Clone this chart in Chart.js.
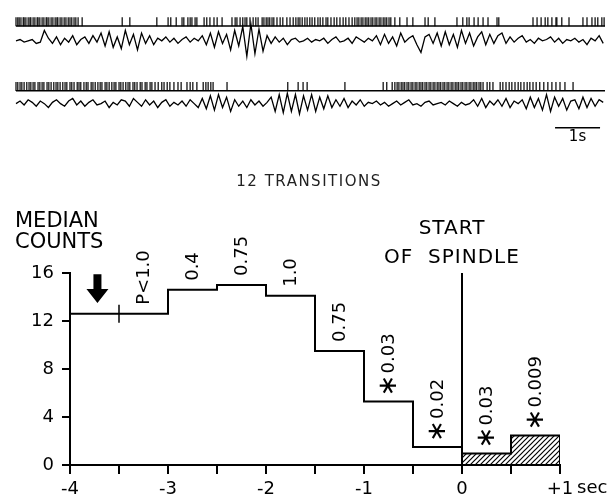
<!DOCTYPE html>
<html>
<head>
<meta charset="utf-8">
<script src="https://cdn.jsdelivr.net/npm/chart.js@4/dist/chart.umd.min.js"></script>
<style>
  html,body{margin:0;padding:0;background:#fff;}
  #wrap{position:relative;width:616px;height:501px;overflow:hidden;}
  canvas{position:absolute;left:0;}
  #traces{top:0;}
  #hist{top:150px;}
</style>
</head>
<body>
<div id="wrap">
  <canvas id="traces" width="616" height="150"></canvas>
  <canvas id="hist" width="616" height="351"></canvas>
</div>
<script>
// ---------------- DATA: top recordings (seconds / arbitrary µV units) ----------------
const traceDuration = 13.09;          // seconds shown in each sweep
const scaleBarStart = 11.98;          // s
const scaleBarLength = 1;             // "1s"
const eegDt = 0.09;                   // s between EEG samples

const raster1Times = [0.00,0.04,0.07,0.11,0.16,0.18,0.22,0.27,0.31,0.33,0.38,0.42,0.47,0.49,0.53,0.58,0.62,0.67,0.69,0.73,0.78,0.82,0.87,0.91,0.93,0.98,1.02,1.07,1.11,1.16,1.20,1.24,1.29,1.33,1.38,
  1.47,2.36,2.53,3.13,3.38,3.44,3.56,3.69,3.73,3.82,3.87,3.91,3.98,4.02,4.18,4.24,4.31,4.40,4.47,4.58,4.80,4.87,4.91,4.98,5.04,5.09,5.13,5.20,5.27,5.33,5.38,5.47,5.51,5.56,5.60,5.64,5.69,5.73,5.80,5.87,5.93,
  6.02,6.09,6.16,6.22,6.27,6.31,6.36,6.42,6.47,6.53,6.58,6.64,6.71,6.76,6.82,6.89,6.93,7.00,7.07,7.13,7.20,7.27,7.33,7.40,7.47,7.53,7.58,7.62,7.67,7.71,7.76,7.80,7.84,7.89,7.93,7.98,8.02,8.07,8.11,8.16,8.20,8.24,8.29,8.33,
  8.42,8.53,8.69,8.82,9.09,9.16,9.31,9.80,9.93,10.02,10.07,10.18,10.27,10.38,10.49,10.69,10.73,11.49,11.58,11.67,11.76,11.82,11.91,12.00,12.02,12.13,12.29,12.60,12.69,12.80,12.87,12.93,13.02,13.07];

const raster2Times = [0.00,0.04,0.09,0.13,0.18,0.24,0.29,0.33,0.38,0.42,0.49,0.53,0.58,0.62,0.69,0.73,0.78,0.84,0.89,0.93,0.98,1.04,1.09,1.13,1.20,1.24,1.29,1.36,1.40,1.44,1.51,1.56,1.60,1.67,1.71,1.76,1.82,1.87,1.91,1.98,
  2.02,2.07,2.13,2.18,2.22,2.29,2.33,2.38,2.44,2.49,2.53,2.60,2.64,2.69,2.76,2.80,2.87,2.91,2.98,3.02,3.09,3.16,3.24,3.29,3.36,3.42,3.51,3.60,3.67,3.80,3.87,3.93,4.02,4.16,4.22,4.27,4.33,4.38,4.69,
  6.04,6.27,6.38,6.47,7.31,8.16,8.24,8.36,8.42,8.47,8.51,8.56,8.60,8.64,8.69,8.73,8.78,8.82,8.87,8.91,8.96,9.00,9.04,9.09,9.13,9.18,9.22,9.27,9.31,9.36,9.40,9.44,9.49,9.53,9.58,9.62,9.67,9.71,9.76,9.80,9.84,9.89,9.93,9.98,
  10.02,10.07,10.11,10.16,10.20,10.24,10.29,10.33,10.38,10.47,10.53,10.60,10.76,10.82,10.89,10.96,11.02,11.09,11.16,11.22,11.29,11.36,11.42,11.49,11.56,11.64,11.73,11.82,11.91,12.00,12.09,12.20,12.38];

const eeg1 = [0,1,-1,0,1,-2,-1, 8,2,
  -2,3,-3,2,-1,4,-3,1,3,-2,4,-1,
  6,-4,7,-5,3,-6,8,-3,5,-7,6,-2,4,
  -3,2,0,3,-1,2,-2,1,3,-1,2,0,
  4,-3,6,-5,7,-2,5,-7,8,-4,
  11,-12,13,-10,9,-8,4,
  -2,3,-1,2,-3,1,2,-1,0,2,
  -1,1,0,2,-2,1,3,-1,0,2,-2,3,1,-1,2,0,
  4,-3,5,-2,3,-4,6,-1,2,4,-3,-9,
  3,5,-2,6,-4,7,-3,5,-5,8,-2,6,-4,3,7,-3,5,-2,4,6,
  -2,3,-1,2,4,-1,1,-2,2,0,1,3,-1,2,-2,1,0,2,-1,1,-3,2,0,4,-2];

const eeg2 = [0,2,-1,3,1,-2,2,0,-3,1,3,0,-2,2,4,-1,
  2,-2,1,3,-1,0,2,-3,1,-1,3,2,-2,4,1,-2,3,-1,
  2,-3,1,3,-2,1,-1,2,-2,3,0,-3,
  4,-4,6,-5,7,-3,5,-6,3,-2,
  2,-3,3,-1,2,-2,1,
  5,-6,7,-7,8,-6,7,-8,6,-5,7,-6,5,-4,6,-3,
  3,-2,4,-3,2,-1,3,-2,1,0,
  2,-1,1,-2,0,2,-1,1,3,-1,0,-2,1,2,-1,0,1,-1,2,0,-2,1,-1,0,
  3,-2,4,-3,2,-1,3,-2,4,-3,2,0,
  3,-4,5,-3,4,-5,7,-6,5,-2,4,-5,2,3,-4,5,-3,4,-2,3,1];

// ---------------- DATA: histogram ----------------
const binEdges = [-4,-3.5,-3,-2.5,-2,-1.5,-1,-0.5,0,0.5,1];        // s relative to spindle start
const medianCounts = [12.6,12.6,14.6,15.0,14.1,9.5,5.3,1.5,0.95,2.45];
const pLabels = [null,"P<1.0","0.4","0.75","1.0","0.75","*0.03","*0.02","*0.03","*0.009"];
const spindleStart = 0;
const xTickLabels = {"-4":"-4","-3":"-3","-2":"-2","-1":"-1","0":"0","1":"+1"};
const yTicks = [0,4,8,12,16];
const arrowTime = -3.72, arrowFrom = 15.9, arrowTo = 13.5;
const markTime = -3.5;

Chart.defaults.font.family = "'DejaVu Sans', sans-serif";
Chart.defaults.color = '#000';

// ---------------- top chart: raster + EEG sweeps ----------------
const lanes = {raster1: 22, eeg1: 38, raster2: 92, eeg2: 106, bar: 132}; // vertical lanes (axis units)
const eegGain = 1.4;
const tickHalf = 4.5;
function rasterPts(times, lane){ return times.map(t => ({x:t, y:lane - tickHalf})); }
function eegPts(vals, lane){ return vals.map((v,i) => ({x:i*eegDt, y:lane - v*eegGain})); }
function hLine(x0, x1, lane){ return [{x:x0,y:lane},{x:x1,y:lane}]; }

const lineDs = (data, w) => ({type:'line', data, borderColor:'#000', borderWidth:w, pointRadius:0, tension:0, clip:false});
const tickDs = (data) => ({type:'scatter', data, pointStyle:'line', rotation:90, radius:tickHalf, borderColor:'#000', borderWidth:1.2, clip:false});

const barLabelPlugin = {
  id:'barLabel',
  afterDatasetsDraw(chart){
    const {ctx, scales:{x,y}} = chart;
    ctx.save();
    ctx.fillStyle = '#000';
    ctx.font = "15px 'DejaVu Sans'";
    ctx.textAlign = 'center';
    ctx.textBaseline = 'top';
    ctx.fillText('1s', x.getPixelForValue(scaleBarStart + scaleBarLength/2), y.getPixelForValue(lanes.bar) + 2);
    ctx.restore();
  }
};

new Chart(document.getElementById('traces'), {
  data: {datasets: [
    lineDs(hLine(0, traceDuration, lanes.raster1), 1.5),
    tickDs(rasterPts(raster1Times, lanes.raster1)),
    lineDs(eegPts(eeg1, lanes.eeg1), 1.3),
    lineDs(hLine(0, traceDuration, lanes.raster2), 1.5),
    tickDs(rasterPts(raster2Times, lanes.raster2)),
    lineDs(eegPts(eeg2, lanes.eeg2), 1.3),
    lineDs(hLine(scaleBarStart, scaleBarStart + scaleBarLength, lanes.bar), 1.5)
  ]},
  options: {
    responsive:false, animation:false, events:[],
    layout:{padding:{left:16,right:11,top:0,bottom:0}},
    plugins:{legend:{display:false}, tooltip:{enabled:false}},
    scales:{
      x:{type:'linear', min:0, max:traceDuration, display:false},
      y:{type:'linear', min:0, max:150, reverse:true, display:false}
    }
  },
  plugins:[barLabelPlugin]
});

// ---------------- bottom chart: median counts histogram ----------------
function makeHatch(){
  const c = document.createElement('canvas');
  c.width = 5; c.height = 5;
  const g = c.getContext('2d');
  g.strokeStyle = '#000'; g.lineWidth = 1.2;
  g.beginPath();
  g.moveTo(-1,6); g.lineTo(6,-1);
  g.moveTo(-1,1); g.lineTo(1,-1);
  g.moveTo(4,6); g.lineTo(6,4);
  g.stroke();
  return g.createPattern(c, 'repeat');
}

const spIdx = binEdges.indexOf(spindleStart);
const prePts = [];
for (let i = 0; i < spIdx; i++) prePts.push({x:binEdges[i], y:medianCounts[i]});
prePts.push({x:binEdges[spIdx], y:medianCounts[spIdx-1]});

const postPts = [{x:binEdges[spIdx], y:0}];
for (let i = spIdx; i < medianCounts.length; i++) postPts.push({x:binEdges[i], y:medianCounts[i]});
postPts.push({x:binEdges[binEdges.length-1], y:medianCounts[medianCounts.length-1]});
postPts.push({x:binEdges[binEdges.length-1], y:0});

const annotPlugin = {
  id:'annot',
  afterDatasetsDraw(chart){
    const {ctx, scales:{x,y}} = chart;
    ctx.save();
    ctx.fillStyle = '#000';
    // p-value labels, rotated
    for (let i = 0; i < pLabels.length; i++){
      const lab = pLabels[i];
      if (!lab) continue;
      const cx = x.getPixelForValue((binEdges[i] + binEdges[i+1]) / 2);
      const cy = y.getPixelForValue(medianCounts[i]) - 9;
      ctx.save();
      ctx.translate(cx, cy);
      ctx.rotate(-Math.PI/2);
      ctx.textBaseline = 'middle';
      ctx.textAlign = 'left';
      let off = 0;
      let txt = lab;
      if (lab.startsWith('*')){
        ctx.font = "26px 'DejaVu Sans'";
        ctx.fillText('\u2217', -4, 1);
        off = 19;
        txt = lab.slice(1);
      }
      ctx.font = "18px 'DejaVu Sans'";
      ctx.fillText(txt, off, 1);
      ctx.restore();
    }
    // arrow
    const ax = x.getPixelForValue(arrowTime);
    const ay0 = y.getPixelForValue(arrowFrom), ay1 = y.getPixelForValue(arrowTo);
    const headL = 14, headW = 11, shaftW = 4;
    ctx.beginPath();
    ctx.moveTo(ax - shaftW, ay0);
    ctx.lineTo(ax + shaftW, ay0);
    ctx.lineTo(ax + shaftW, ay1 - headL);
    ctx.lineTo(ax + headW, ay1 - headL);
    ctx.lineTo(ax, ay1);
    ctx.lineTo(ax - headW, ay1 - headL);
    ctx.lineTo(ax - shaftW, ay1 - headL);
    ctx.closePath();
    ctx.fill();
    // texts
    ctx.textAlign = 'left';
    ctx.textBaseline = 'alphabetic';
    ctx.font = "21px 'DejaVu Sans'";
    ctx.fillText('MEDIAN', 15, 77);
    ctx.fillText('COUNTS', 15, 98);
    ctx.textAlign = 'center';
    ctx.font = "20px 'DejaVu Sans'";
    ctx.letterSpacing = '1px';
    const sx = x.getPixelForValue(spindleStart) - 10;
    ctx.fillText('START', sx, 84);
    ctx.fillText('OF  SPINDLE', sx, 113);
    ctx.font = "15px 'DejaVu Sans'";
    ctx.letterSpacing = '1.5px';
    ctx.fillStyle = '#222';
    ctx.fillText('12 TRANSITIONS', 309, 36);
    ctx.letterSpacing = '0px';
    ctx.fillStyle = '#000';
    // "sec" after +1
    ctx.textAlign = 'left';
    ctx.textBaseline = 'middle';
    ctx.font = "18px 'DejaVu Sans'";
    ctx.fillText('sec', x.getPixelForValue(binEdges[binEdges.length-1]) + 17, y.bottom + 23);
    ctx.restore();
  }
};

new Chart(document.getElementById('hist'), {
  data: {datasets: [
    {type:'line', data:prePts, stepped:'before', borderColor:'#000', borderWidth:2, pointRadius:0, fill:false},
    {type:'line', data:postPts, stepped:'before', borderColor:'#000', borderWidth:2, pointRadius:0, fill:'origin', backgroundColor:makeHatch()},
    {type:'line', data:[{x:spindleStart,y:0},{x:spindleStart,y:16}], borderColor:'#000', borderWidth:2, pointRadius:0, clip:false},
    {type:'scatter', data:[{x:markTime, y:medianCounts[0]}], pointStyle:'line', rotation:90, radius:9, borderColor:'#000', borderWidth:1.5, clip:false}
  ]},
  options: {
    responsive:false, animation:false, events:[],
    layout:{padding:{left:0,right:56,top:123,bottom:0}},
    plugins:{legend:{display:false}, tooltip:{enabled:false}},
    scales:{
      x:{type:'linear', min:-4, max:1,
        afterFit(s){ s.height = 36; },
        afterBuildTicks(s){ s.ticks = binEdges.map(v => ({value:v})); },
        ticks:{autoSkip:false, maxRotation:0, padding:5, font:{size:18},
          callback:(v) => (xTickLabels[String(v)] ?? '')},
        grid:{drawOnChartArea:false, drawTicks:true, tickLength:9, color:'#000', lineWidth:2},
        border:{display:true, color:'#000', width:2}
      },
      y:{type:'linear', min:0, max:16,
        afterFit(s){ s.width = 70; },
        afterBuildTicks(s){ s.ticks = yTicks.map(v => ({value:v})); },
        ticks:{padding:8, font:{size:18}},
        grid:{drawOnChartArea:false, drawTicks:true, tickLength:8, color:'#000', lineWidth:2},
        border:{display:true, color:'#000', width:2}
      }
    }
  },
  plugins:[annotPlugin]
});
</script>
</body>
</html>
